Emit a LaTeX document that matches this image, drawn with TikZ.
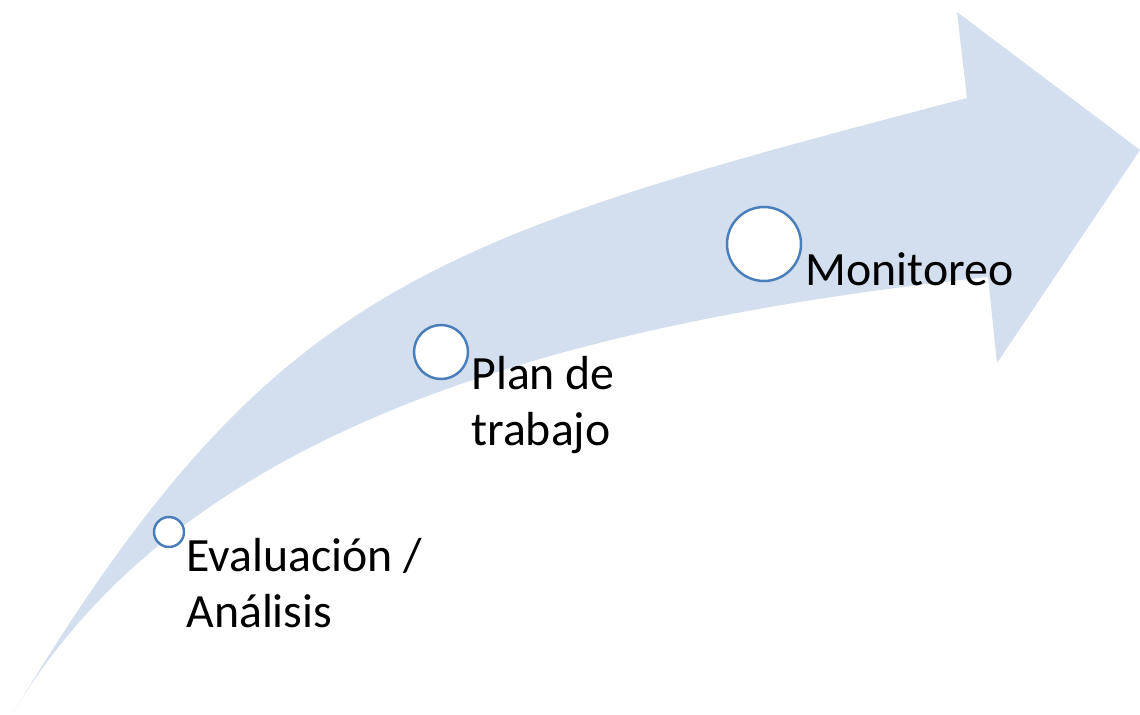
\documentclass[tikz,border=0pt]{standalone}
\usepackage{fontspec}
\setmainfont{Carlito}
\usetikzlibrary{positioning}
\definecolor{bandfill}{RGB}{211,222,239}
\definecolor{ringblue}{RGB}{74,126,187}
\begin{document}
\begin{tikzpicture}[x=0.02cm, y=-0.02cm,
  dot/.style={draw=ringblue, line width=1.4pt, fill=white, circle, inner sep=0pt},
  steptext/.style={anchor=base west, align=left, inner sep=0pt, font=\fontsize{27.2}{31.5}\selectfont}]
\useasboundingbox (0,0) rectangle (1140,714);
\fill[bandfill] (13,713) .. controls (272,285) and (425,240) .. (967,98)
  -- (957,12) -- (1140,150) -- (997,363) -- (988,277)
  .. controls (491,330) and (167,456) .. cycle;
\node[dot, minimum size=0.6cm] (c1) at (169,532) {};
\node[dot, minimum size=1.08cm] (c2) at (441,352) {};
\node[dot, minimum size=1.48cm] (c3) at (764,244) {};
\node[steptext] (t1) at (186,627) {Evaluación /\\Análisis};
\node[steptext] (t2) at (471,445) {Plan de\\trabajo};
\node[steptext] (t3) at (805,285) {Monitoreo};
\end{tikzpicture}
\end{document}
